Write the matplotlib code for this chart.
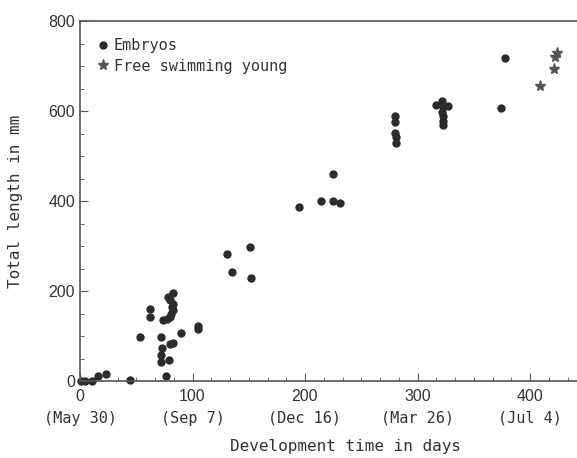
import matplotlib
matplotlib.use("Agg")
import matplotlib.pyplot as plt
from matplotlib.ticker import MultipleLocator
import matplotlib.transforms as mtransforms

# datos (dias, longitud en mm)
embryo_days = [1, 4, 11, 16, 23, 44,
               53, 62, 62, 72, 73, 72, 72, 76, 79, 80, 83, 90, 105, 105,
               74, 77, 80, 81, 83, 82, 83, 80, 78, 83,
               131, 135, 151, 152,
               195, 214, 225, 231, 225,
               280, 280, 280, 281, 281,
               316, 322, 323, 327, 322, 323, 323, 323,
               374, 378]
embryo_mm = [0, 0, 0, 12, 15, 3,
             97, 159, 143, 97, 73, 58, 43, 11, 47, 82, 84, 106, 122, 115,
             136, 137, 143, 150, 158, 165, 172, 180, 187, 195,
             282, 242, 298, 230,
             386, 401, 401, 396, 460,
             589, 575, 552, 543, 530,
             613, 622, 612, 612, 598, 588, 578, 570,
             607, 717]

young_days = [409, 421, 422, 424]
young_mm = [656, 693, 719, 728]

xticks = [0, 100, 200, 300, 400]
fechas = ["(May 30)", "(Sep 7)", "(Dec 16)", "(Mar 26)", "(Jul 4)"]
yticks = [0, 200, 400, 600, 800]

mono = "DejaVu Sans Mono"
sans = "Liberation Sans"
gris = "#333333"

fig = plt.figure(figsize=(5.77, 4.58), dpi=100)
ax = fig.add_axes([80 / 577, 1 - 381 / 458, 1 - 80 / 577, 360 / 458])

ax.plot(embryo_days, embryo_mm, "o", color="#2b2b2b", ms=5, ls="none",
        clip_on=False, label="Embryos")
ax.plot(young_days, young_mm, "*", color="#555555", ms=8, ls="none",
        clip_on=False, label="Free swimming young")

ax.set_xlim(0, 497 / 1.125)
ax.set_ylim(0, 800)
ax.set_xticks(xticks)
ax.set_yticks(yticks)
ax.xaxis.set_minor_locator(MultipleLocator(100 / 6))
ax.yaxis.set_minor_locator(MultipleLocator(50))
ax.tick_params(which="both", direction="in", colors="#555555", labelcolor=gris)
ax.tick_params(which="major", length=6, labelsize=11.5)
ax.tick_params(which="minor", length=3)
ax.tick_params(axis="x", pad=6)
for lab in ax.get_xticklabels() + ax.get_yticklabels():
    lab.set_fontfamily(sans)

ax.spines["right"].set_visible(False)
for s in ["left", "top", "bottom"]:
    ax.spines[s].set_color("#555555")
    ax.spines[s].set_linewidth(1.2)

# fechas debajo de los numeros
trans = mtransforms.blended_transform_factory(ax.transData, ax.transAxes)
for x, f in zip(xticks, fechas):
    ax.text(x, -0.103, f, transform=trans, ha="center", va="center",
            family=mono, fontsize=11, color=gris)

ax.set_xlabel("Development time in days", family=mono, fontsize=11.5, color=gris)
ax.xaxis.set_label_coords(0.535, -0.16)
ax.set_ylabel("Total length in mm", family=mono, fontsize=11.5, color=gris)
ax.yaxis.set_label_coords(-0.115, 0.5)

ax.legend(loc="upper left", bbox_to_anchor=(0.01, 0.99), frameon=False,
          handlelength=0.6, handletextpad=0.4, labelspacing=0.35,
          prop={"family": mono, "size": 11}, labelcolor=gris)

fig.savefig("out.png", dpi=100)
